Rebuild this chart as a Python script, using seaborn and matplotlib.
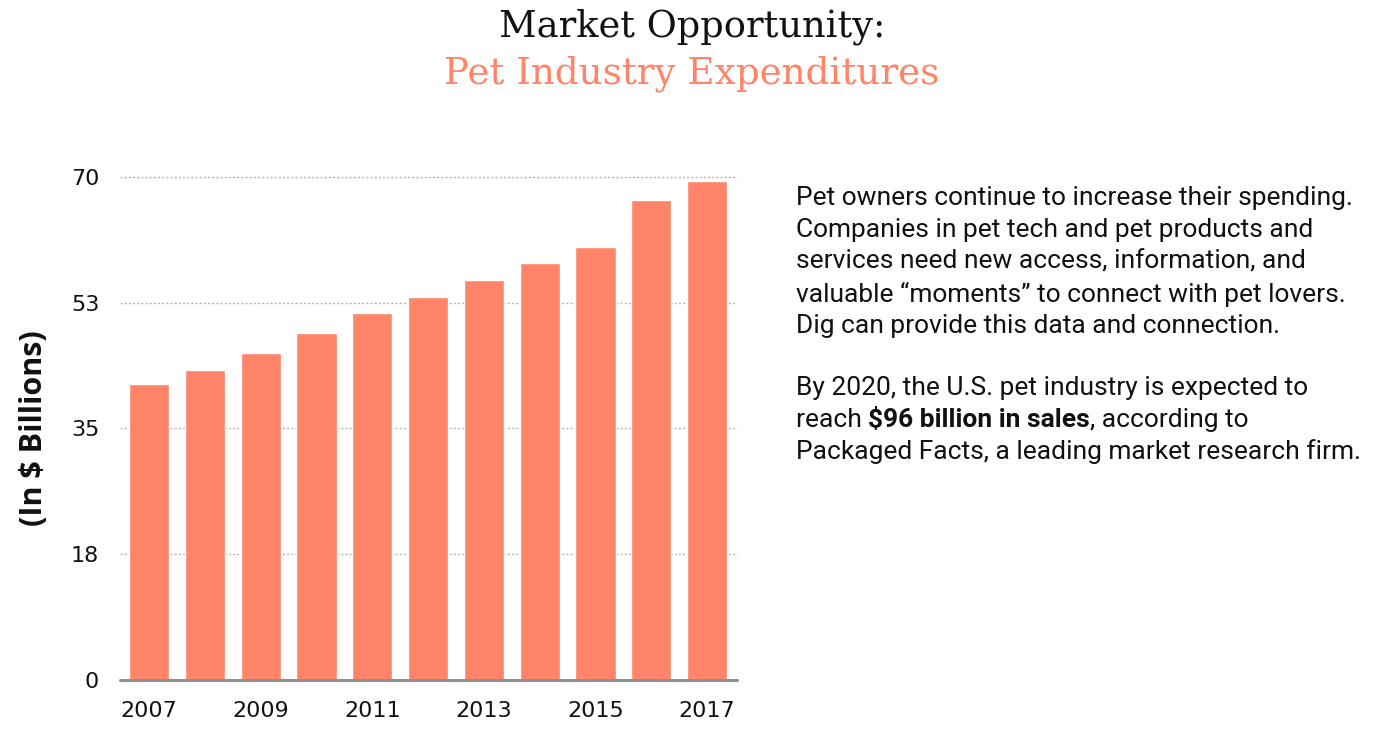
import numpy as np
import pandas as pd
import seaborn as sns
import matplotlib.pyplot as plt

# Data (US pet industry expenditures, $ billions)
years = ["2007", "2008", "2009", "2010", "2011", "2012",
         "2013", "2014", "2015", "2016", "2017"]
spend = [41.2, 43.2, 45.5, 48.3, 51.0, 53.3, 55.7, 58.0, 60.3, 66.8, 69.5]
ytick_vals = [0, 17.5, 35, 52.5, 70]
ytick_labels = ["0", "18", "35", "53", "70"]
shown_years = ["2007", "2009", "2011", "2013", "2015", "2017"]

coral = "#FF8468"

df = pd.DataFrame({"year": years, "spend": spend})

sns.set_style("white")
plt.rcParams["font.family"] = ["Open Sans", "DejaVu Sans"]

fig = plt.figure(figsize=(13.78, 7.34), dpi=100)
ax = fig.add_axes([0.0871, 0.0736, 0.4479, 0.6853])

sns.barplot(data=df, x="year", y="spend", color=coral, saturation=1,
            width=0.72, ax=ax, zorder=3)

ax.set_xlim(-0.52, 10.54)
ax.set_ylim(0, 70)

# grid + baseline
for v in ytick_vals[1:]:
    ax.axhline(v, color="#b5b5b5", lw=1, ls=(0, (1.5, 1.5)), zorder=1,
               clip_on=False)
ax.axhline(0, color="#8f8f8f", lw=2.2, zorder=4, clip_on=False)
sns.despine(ax=ax, left=True, bottom=True)

ax.set_yticks(ytick_vals)
ax.set_yticklabels(ytick_labels)
ax.set_xticks([years.index(y) for y in shown_years])
ax.set_xticklabels(shown_years)
ax.tick_params(axis="y", length=0, pad=15)
ax.tick_params(axis="x", length=0, pad=15)
for lab in ax.get_xticklabels() + ax.get_yticklabels():
    lab.set_family(["DejaVu Sans"])
    lab.set_fontsize(16)
    lab.set_color("#111111")

ax.set_xlabel("")
ax.set_ylabel("(In $ Billions)", fontsize=22, fontweight="bold",
              color="#111111", labelpad=16)

# title
fig.text(0.502, 0.963, "Market Opportunity:", ha="center", va="center",
         fontsize=26.5, family=["DejaVu Serif"], color="#111111")
fig.text(0.502, 0.899, "Pet Industry Expenditures", ha="center",
         va="center", fontsize=26.8, family=["DejaVu Serif"], color=coral)

# side text
para1 = ["Pet owners continue to increase their spending.",
         "Companies in pet tech and pet products and",
         "services need new access, information, and",
         "valuable \u201cmoments\u201d to connect with pet lovers.",
         "Dig can provide this data and connection."]
x0 = 796 / 1378
line_h = 32 / 734
y = 1 - 198 / 734
tkw = dict(fontsize=19, family=["Roboto", "DejaVu Sans"], color="#111111",
           va="center", ha="left")
for line in para1:
    fig.text(x0, y, line, **tkw)
    y -= line_h

y = 1 - 388 / 734
fig.text(x0, y, "By 2020, the U.S. pet industry is expected to", **tkw)
y -= line_h
renderer = fig.canvas.get_renderer()
t1 = fig.text(x0, y, "reach ", **tkw)
w1 = t1.get_window_extent(renderer).width / fig.bbox.width
t2 = fig.text(x0 + w1, y, "$96 billion in sales", fontweight="bold", **tkw)
w2 = t2.get_window_extent(renderer).width / fig.bbox.width
fig.text(x0 + w1 + w2, y, ", according to", **tkw)
y -= line_h
fig.text(x0, y, "Packaged Facts, a leading market research firm.", **tkw)

fig.savefig("out.png", dpi=100)
